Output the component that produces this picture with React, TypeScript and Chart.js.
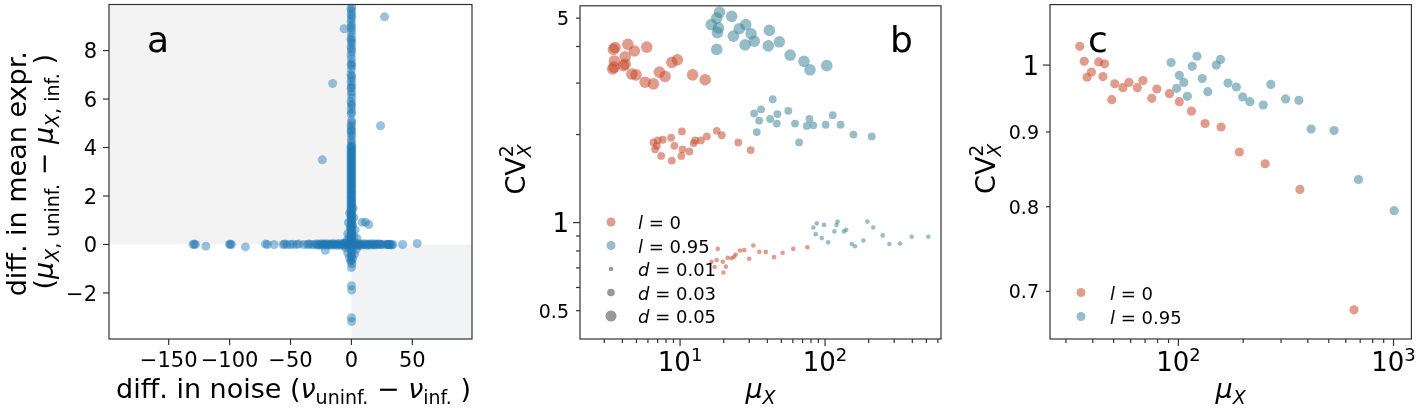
import React, { useEffect, useRef } from 'react';
import { Chart, registerables } from 'chart.js';

Chart.register(...registerables);

const FAMILY = '"DejaVu Sans", sans-serif';

// ---------------- Panel a data: [diff. in noise, diff. in mean expr.] ----------------
const aVerticalStem: [number, number][] = [
  [0.3, 9.8], [-0.4, 9.72], [0.2, 9.62], [-0.2, 9.5], [0.4, 9.42], [0, 9.3], [-0.3, 9.18], [0.2, 9.05], [-0.2, 8.95], [0.3, 8.85],
  [-0.1, 8.72], [0.2, 8.55], [-0.3, 8.47], [0.1, 8.38], [0.3, 8.28], [-0.2, 8.15], [0, 8.05], [0.3, 7.95], [-0.3, 7.82], [0.1, 7.66],
  [0.2, 7.5], [-0.2, 7.42], [0.3, 7.36], [0, 7.22], [-0.3, 7.02], [0.2, 6.95], [0.1, 6.85], [-0.2, 6.72], [0.3, 6.6], [0, 6.5],
  [-0.2, 6.45], [0.2, 6.3], [0, 6.2], [0.3, 6.05], [-0.3, 5.9], [0.1, 5.8], [0.2, 5.72], [-0.1, 5.58], [0.3, 5.45], [-0.2, 5.38],
  [0.1, 5.12], [0.3, 5.02], [-0.2, 4.92], [0, 4.82], [0.2, 4.72], [-0.3, 4.66], [0.1, 4.56], [0.3, 4.46], [-0.1, 4.32], [0.2, 4.22],
];
const aDenseStem: [number, number][] = [
  [0.3, 4.1], [0.3, 4.0], [0.3, 3.9], [0.3, 3.8], [0.3, 3.7], [0.3, 3.6], [0.3, 3.5], [0.3, 3.4], [0.3, 3.3], [0.3, 3.2],
  [0.3, 3.1], [0.3, 3.0], [0.3, 2.9], [0.3, 2.8], [0.3, 2.7], [0.3, 2.6], [0.3, 2.5], [0.3, 2.4], [0.3, 2.3], [0.3, 2.2],
  [0.3, 2.1], [0.3, 2.0], [0.3, 1.9], [0.3, 1.8], [0.3, 1.7], [0.3, 1.6], [0.3, 1.5], [0.3, 1.4], [0.3, 1.3], [0.3, 1.2],
  [0.3, 1.1], [0.3, 1.0], [0.3, 0.9], [0.3, 0.8], [0.3, 0.7], [0.3, 0.6], [0.3, 0.5], [0.3, 0.4], [0.3, 0.3], [0.3, 0.2], [0.3, 0.1],
  [-0.3, 4.05], [-0.3, 3.95], [-0.3, 3.85], [-0.3, 3.75], [-0.3, 3.65], [-0.3, 3.55], [-0.3, 3.45], [-0.3, 3.35], [-0.3, 3.25], [-0.3, 3.15],
  [-0.3, 3.05], [-0.3, 2.95], [-0.3, 2.85], [-0.3, 2.75], [-0.3, 2.65], [-0.3, 2.55], [-0.3, 2.45], [-0.3, 2.35], [-0.3, 2.25], [-0.3, 2.15],
  [-0.3, 2.05], [-0.3, 1.95], [-0.3, 1.85], [-0.3, 1.75], [-0.3, 1.65], [-0.3, 1.55], [-0.3, 1.45], [-0.3, 1.35], [-0.3, 1.25], [-0.3, 1.15],
  [-0.3, 1.05], [-0.3, 0.95], [-0.3, 0.85], [-0.3, 0.75], [-0.3, 0.65], [-0.3, 0.55], [-0.3, 0.45], [-0.3, 0.35], [-0.3, 0.25], [-0.3, 0.15], [-0.3, 0.05],
];
const aCenter: [number, number][] = [
  [-4, 0.15], [4.5, 0.25], [-3, 0.45], [3, 0.6], [-2.5, 0.9], [2, 1.1], [-1.5, 1.3], [1.5, 1.5], [-4.5, -0.15], [4, -0.2],
  [-3, -0.35], [2.5, -0.4], [-1.5, -0.55], [1, -0.6], [-0.5, -0.7], [0.5, -0.8], [0, -0.95], [-5, 0.05], [5, 0], [-2, 0.3],
  [2, 0.35], [-1, 0.7], [1, 0.8], [0.2, -0.1], [-0.2, -0.2], [0.1, -0.3], [-0.1, -0.4], [0.3, -0.5], [-0.2, -0.65],
  [0, -1.7], [0.2, -1.88], [0, -3.02], [0.1, -3.18],
];
const aHorizontalStem: [number, number][] = [
  [-130, 0], [-129, 0.02], [-128, 0], [-119.5, -0.07], [-100, 0], [-99.5, 0.02], [-98.5, 0], [-87, -0.1], [-70.5, 0.02], [-69, 0],
  [-63.5, 0], [-56, 0], [-55, 0.02], [-53, 0], [-50, 0], [-48, 0.01], [-45, 0], [-43, 0.02], [-39, 0], [-36, 0], [-35, 0.02],
  [-33, 0], [-31, 0], [-29, 0.02], [-28, -0.02], [-27, 0.02], [-26, -0.03], [-25, 0.01], [-24, 0.03], [-23, -0.02], [-22, 0.02],
  [-21, -0.01], [-20, 0.03], [-19, -0.03], [-18, 0.01], [-17, 0.02], [-16, -0.02], [-15, 0.03], [-14, -0.01], [-13, 0.02], [-12, -0.03],
  [-11, 0.01], [-10, 0.04], [-9, -0.04], [-8, 0.02], [-7, -0.02], [-6, 0.05], [-5, -0.05], [-4, 0.03], [-3, -0.03], [-2, 0.04],
  [-1, -0.04], [0, 0.02], [1, -0.02], [2, 0.04], [3, -0.04], [4, 0.05], [5, -0.05], [6, 0.03], [7, -0.03], [8, 0.02],
  [9, -0.02], [10, 0.03], [11, -0.01], [12, 0.02], [13, -0.03], [14, 0.01], [15, 0.02], [16, -0.02], [17, 0.03], [18, -0.01],
  [19, 0.02], [20, -0.02], [21, 0.01], [22, 0.02], [23, 0.02], [24, 0], [25, 0], [27, 0.01], [29, 0], [30, 0],
  [30.5, 0], [31, 0.01], [32, 0], [33, -0.02], [34, 0], [42, 0], [54, 0.04],
];
const aOutliers: [number, number][] = [
  [-6, 8.9], [-15.4, 6.64], [27.2, 9.39], [23.9, 4.9], [-23.9, 3.49], [8.8, 0.92], [11.5, 0.92], [14.3, 0.82], [-21.4, -0.24],
];
const aXTicks = [-150, -100, -50, 0, 50];
const aYTicks = [-2, 0, 2, 4, 6, 8];

// ---------------- Panel b data ----------------
const bRedLargeMu = [3.47, 3.56, 4.36, 4.84, 5.89, 3.52, 4.18, 4.18, 3.43, 4.65, 4.97, 5.74, 6.55, 7.2, 7.88, 8.77, 9.58, 12.2, 14.9, 4.07, 3.5];
const bRedLargeCv = [3.91, 3.97, 4.07, 3.86, 3.98, 3.57, 3.69, 3.48, 3.35, 3.22, 3.2, 3.02, 2.98, 3.27, 3.16, 3.53, 3.6, 3.2, 3.08, 3.44, 3.4];
const bBlueLargeMu = [18.7, 17.9, 22.7, 16.4, 18.4, 18.1, 17.9, 23.3, 25.6, 28.4, 30.9, 32.5, 28.1, 41.3, 40.6, 48.4, 57.4, 71.6, 78.8, 102.8];
const bBlueLargeCv = [5.24, 5.0, 5.07, 4.75, 4.63, 4.46, 3.91, 4.34, 4.6, 4.75, 4.42, 4.17, 4.05, 4.54, 4.02, 4.15, 3.74, 3.56, 3.33, 3.44];
const bRedMidMu = [6.55, 6.72, 7.02, 7.6, 6.91, 7.4, 8.67, 9.14, 8.77, 10.3, 10.4, 10.2, 11.6, 12.4, 12.7, 13.9, 15.3, 17.9, 19.4, 25.2, 30.7];
const bRedMidCv = [1.88, 1.78, 1.91, 1.92, 1.83, 1.69, 1.95, 1.83, 1.63, 2.05, 1.78, 1.69, 1.75, 1.87, 1.91, 1.91, 1.97, 2.06, 1.99, 1.88, 1.77];
const bBlueMidMu = [43.6, 32.4, 36.2, 35.1, 33.8, 41.8, 46.9, 46.5, 55.8, 62.1, 66.2, 74.8, 78.0, 83.0, 101, 113, 128, 157, 210];
const bBlueMidCv = [2.64, 2.36, 2.44, 2.23, 2.04, 2.26, 2.35, 2.18, 2.41, 2.18, 1.88, 2.14, 2.26, 2.15, 2.16, 2.33, 2.16, 2.0, 1.97];
const bRedSmallMu = [16.5, 17.3, 17.9, 18.2, 19.7, 19.9, 20.7, 21.3, 22.7, 23.6, 24.2, 25.9, 27.7, 30.0, 32.0, 35.2, 39.0, 44.5, 51.0, 60.4, 75.5];
const bRedSmallCv = [0.735, 0.705, 0.745, 0.813, 0.735, 0.675, 0.707, 0.758, 0.755, 0.764, 0.778, 0.803, 0.805, 0.752, 0.835, 0.794, 0.794, 0.762, 0.789, 0.813, 0.824];
const bBlueSmallMu = [83.0, 87.7, 98.4, 86.3, 94.9, 105, 116, 120, 122, 135, 140, 153, 161, 184, 196, 215, 250, 278, 329, 396, 516];
const bBlueSmallCv = [0.962, 0.994, 0.982, 0.913, 0.885, 0.856, 0.933, 0.982, 1.008, 0.933, 0.945, 0.845, 0.83, 0.868, 1.008, 0.962, 0.904, 0.845, 0.848, 0.895, 0.895];
const bXMajor = [10, 100];
const bXMinor = [3, 4, 5, 6, 7, 8, 9, 20, 30, 40, 50, 60, 70, 80, 90, 200, 300, 400, 500, 600];
const bYMajor = [1];
const bYMinor = [0.5, 0.6, 0.7, 0.8, 0.9, 2, 3, 4, 5];
const bYMinorLabeled = [0.5, 5];

// ---------------- Panel c data ----------------
const cRedMu = [34.8, 36.5, 37.6, 39.4, 42.6, 45.4, 44.6, 50.6, 49.0, 55.2, 58.9, 64.4, 68.4, 75.2, 79.4, 90.9, 101, 115, 133, 158, 192, 253, 367, 655];
const cRedCv = [1.03, 1.006, 0.981, 0.989, 1.005, 1.002, 0.982, 0.971, 0.947, 0.965, 0.973, 0.965, 0.976, 0.949, 0.963, 0.956, 0.944, 0.93, 0.912, 0.907, 0.872, 0.856, 0.822, 0.68];
const cBlueMu = [92.5, 101, 106, 98.2, 110, 116, 122, 129, 137, 150, 157, 170, 186, 199, 215, 248, 269, 315, 363, 414, 529, 687, 1007];
const cBlueCv = [1.004, 0.984, 0.973, 0.964, 0.952, 0.998, 1.014, 0.979, 0.959, 1.0, 1.009, 0.972, 0.966, 0.951, 0.944, 0.939, 0.97, 0.948, 0.946, 0.904, 0.902, 0.835, 0.795];
const cXMajor = [100, 1000];
const cXMinor = [30, 40, 50, 60, 70, 80, 90, 200, 300, 400, 500, 600, 700, 800, 900];
const cYMajor = [1];
const cYMinor = [0.7, 0.8, 0.9];

// ---------------- styles ----------------
const RED = 'rgba(198,76,48,0.55)';
const BLUE = 'rgba(66,135,155,0.55)';
const GRAY = 'rgba(70,70,70,0.55)';
const ABLUE = 'rgba(31,119,180,0.45)';

type Seg = { t: string; size: number; italic?: boolean; dy?: number; stack?: boolean };

function segFont(s: Seg) {
  return `${s.italic ? 'italic ' : ''}${s.size}px ${FAMILY}`;
}

function drawRich(ctx: CanvasRenderingContext2D, segs: Seg[], x: number, y: number, align: 'left' | 'center' | 'right', rot = 0) {
  ctx.save();
  ctx.translate(x, y);
  if (rot) ctx.rotate(rot);
  const pos: number[] = [];
  let cur = 0;
  let prevStart = 0;
  let prevW = 0;
  for (const s of segs) {
    ctx.font = segFont(s);
    const w = ctx.measureText(s.t).width;
    if (s.stack) {
      pos.push(prevStart);
      prevW = Math.max(prevW, w);
      cur = prevStart + prevW;
    } else {
      pos.push(cur);
      prevStart = cur;
      prevW = w;
      cur += w;
    }
  }
  const start = align === 'left' ? 0 : align === 'right' ? -cur : -cur / 2;
  ctx.fillStyle = '#000';
  ctx.textAlign = 'left';
  ctx.textBaseline = 'alphabetic';
  segs.forEach((s, i) => {
    ctx.font = segFont(s);
    ctx.fillText(s.t, start + pos[i], s.dy || 0);
  });
  ctx.restore();
}

type Tick = { v: number; major: boolean; label?: Seg[] };

function plainLabel(v: number, size: number): Seg[] {
  const t = v < 0 ? '\u2212' + String(-v) : String(v);
  return [{ t, size }];
}
function powLabel(exp: string): Seg[] {
  return [{ t: '10', size: 26 }, { t: exp, size: 18, dy: -10 }];
}

interface PanelSpec {
  xTicks: Tick[];
  yTicks: Tick[];
  xMajorLen: number;
  xLabelOffset: number;
  yLabelGap: number;
  background?: (chart: any) => void;
  extras: (chart: any, ctx: CanvasRenderingContext2D) => void;
}

function panelPlugin(id: string, spec: PanelSpec) {
  return {
    id,
    beforeDatasetsDraw(chart: any) {
      if (spec.background) spec.background(chart);
    },
    afterDraw(chart: any) {
      const ctx: CanvasRenderingContext2D = chart.ctx;
      const { left, right, top, bottom } = chart.chartArea;
      const xs = chart.scales.x;
      const ys = chart.scales.y;
      ctx.save();
      ctx.strokeStyle = '#333';
      ctx.lineWidth = 1.2;
      ctx.strokeRect(left, top, right - left, bottom - top);
      for (const t of spec.xTicks) {
        const px = xs.getPixelForValue(t.v);
        if (px < left - 0.5 || px > right + 0.5) continue;
        const len = t.major ? spec.xMajorLen : 4;
        ctx.beginPath();
        ctx.moveTo(px, bottom);
        ctx.lineTo(px, bottom + len);
        ctx.stroke();
        if (t.label) drawRich(ctx, t.label, px, bottom + spec.xLabelOffset, 'center');
      }
      for (const t of spec.yTicks) {
        const py = ys.getPixelForValue(t.v);
        if (py < top - 0.5 || py > bottom + 0.5) continue;
        const len = t.major ? spec.xMajorLen : 4;
        ctx.beginPath();
        ctx.moveTo(left, py);
        ctx.lineTo(left - len, py);
        ctx.stroke();
        if (t.label) {
          const size = t.label[0].size;
          drawRich(ctx, t.label, left - spec.yLabelGap, py + 0.3645 * size, 'right');
        }
      }
      spec.extras(chart, ctx);
      ctx.restore();
    },
  };
}

function pairs(xs: number[], ys: number[]) {
  return xs.map((x, i) => ({ x, y: ys[i] }));
}
function tuples(list: [number, number][]) {
  return list.map(([x, y]) => ({ x, y }));
}
function ds(data: { x: number; y: number }[], color: string, r: number) {
  return { data, backgroundColor: color, borderWidth: 0, pointRadius: r, pointHoverRadius: r };
}

function baseOptions(padding: any, x: any, y: any) {
  return {
    responsive: false,
    animation: false,
    events: [],
    layout: { padding },
    scales: { x: { ...x, display: false }, y: { ...y, display: false } },
    plugins: { legend: { display: false }, tooltip: { enabled: false } },
  };
}

function legendRow(ctx: CanvasRenderingContext2D, mx: number, tx: number, y: number, r: number, color: string, label: Seg[]) {
  ctx.beginPath();
  ctx.fillStyle = color;
  ctx.arc(mx, y, r, 0, Math.PI * 2);
  ctx.fill();
  drawRich(ctx, label, tx, y + 0.3645 * label[0].size + 0.5, 'left');
}

function configA(): any {
  const aSpec: PanelSpec = {
    xTicks: aXTicks.map((v) => ({ v, major: true, label: plainLabel(v, 21) })),
    yTicks: aYTicks.map((v) => ({ v, major: true, label: plainLabel(v, 21) })),
    xMajorLen: 6,
    xLabelOffset: 28,
    yLabelGap: 12,
    background: (chart) => {
      const ctx: CanvasRenderingContext2D = chart.ctx;
      const { left, right, top, bottom } = chart.chartArea;
      const x0 = chart.scales.x.getPixelForValue(0);
      const y0 = chart.scales.y.getPixelForValue(0);
      ctx.save();
      ctx.fillStyle = '#f3f3f3';
      ctx.fillRect(left, top, x0 - left, y0 - top);
      ctx.fillStyle = '#f1f3f5';
      ctx.fillRect(x0, y0, right - x0, bottom - y0);
      ctx.restore();
    },
    extras: (chart, ctx) => {
      const { left, right, top, bottom } = chart.chartArea;
      const cy = (top + bottom) / 2;
      const cx = (left + right) / 2;
      drawRich(ctx, [{ t: 'a', size: 36 }], left + 38, 52, 'left');
      drawRich(ctx, [{ t: 'diff. in mean expr.', size: 27 }], left - 83, cy + 2, 'center', -Math.PI / 2);
      drawRich(
        ctx,
        [
          { t: '(', size: 27 },
          { t: '\u03bc', size: 27, italic: true },
          { t: 'X', size: 19, italic: true, dy: 6 },
          { t: ', uninf.', size: 19, dy: 6 },
          { t: ' \u2212 ', size: 27 },
          { t: '\u03bc', size: 27, italic: true },
          { t: 'X', size: 19, italic: true, dy: 6 },
          { t: ', inf.', size: 19, dy: 6 },
          { t: ' )', size: 27 },
        ],
        left - 56,
        cy,
        'center',
        -Math.PI / 2,
      );
      drawRich(
        ctx,
        [
          { t: 'diff. in noise (', size: 27 },
          { t: '\u03bd', size: 27, italic: true },
          { t: 'uninf.', size: 19, dy: 6 },
          { t: ' \u2212 ', size: 27 },
          { t: '\u03bd', size: 27, italic: true },
          { t: 'inf.', size: 19, dy: 6 },
          { t: ' )', size: 27 },
        ],
        cx + 3,
        bottom + 59,
        'center',
      );
    },
  };
  return {
    type: 'scatter',
    data: {
      datasets: [
        ds(tuples(aHorizontalStem), ABLUE, 4.5),
        ds(tuples(aVerticalStem), ABLUE, 4.5),
        ds(tuples(aDenseStem), ABLUE, 4.5),
        ds(tuples(aCenter), ABLUE, 4.5),
        ds(tuples(aOutliers), ABLUE, 4.5),
      ],
    },
    options: baseOptions(
      { left: 109, right: 8, top: 1, bottom: 69 },
      { type: 'linear', min: -199, max: 99 },
      { type: 'linear', min: -3.9, max: 9.9 },
    ),
    plugins: [panelPlugin('panelA', aSpec)],
  };
}

function logXTicks(major: number[], minor: number[], labels: string[]): Tick[] {
  return [
    ...major.map((v, i) => ({ v, major: true, label: powLabel(labels[i]) })),
    ...minor.map((v) => ({ v, major: false })),
  ];
}

function yTitle(ctx: CanvasRenderingContext2D, x: number, y: number) {
  drawRich(
    ctx,
    [
      { t: 'CV', size: 27 },
      { t: '2', size: 19, dy: -12 },
      { t: 'X', size: 19, italic: true, dy: 6, stack: true },
    ],
    x,
    y,
    'center',
    -Math.PI / 2,
  );
}
function xTitle(ctx: CanvasRenderingContext2D, x: number, y: number) {
  drawRich(ctx, [{ t: '\u03bc', size: 27, italic: true }, { t: 'X', size: 19, italic: true, dy: 6 }], x, y, 'center');
}

function configB(): any {
  const spec: PanelSpec = {
    xTicks: logXTicks(bXMajor, bXMinor, ['1', '2']),
    yTicks: [
      ...bYMajor.map((v) => ({ v, major: true, label: plainLabel(v, 26) })),
      ...bYMinor.map((v) => ({ v, major: false, label: bYMinorLabeled.includes(v) ? plainLabel(v, 19) : undefined })),
    ],
    xMajorLen: 7,
    xLabelOffset: 32,
    yLabelGap: 11,
    extras: (chart, ctx) => {
      const { left, right, top, bottom } = chart.chartArea;
      drawRich(ctx, [{ t: 'b', size: 36 }], right - 51, 52, 'left');
      yTitle(ctx, left - 55, (top + bottom) / 2 - 3);
      xTitle(ctx, (left + right) / 2, bottom + 59);
      const mx = left + 31;
      const tx = left + 58;
      const lab = (v: string, d: string): Seg[] => [{ t: v, size: 18, italic: true }, { t: ' = ' + d, size: 18 }];
      legendRow(ctx, mx, tx, 222, 4.5, RED, lab('l', '0'));
      legendRow(ctx, mx, tx, 245.5, 4.5, BLUE, lab('l', '0.95'));
      legendRow(ctx, mx, tx, 269, 2.3, GRAY, lab('d', '0.01'));
      legendRow(ctx, mx, tx, 292.5, 3.8, GRAY, lab('d', '0.03'));
      legendRow(ctx, mx, tx, 316, 5.5, GRAY, lab('d', '0.05'));
    },
  };
  return {
    type: 'scatter',
    data: {
      datasets: [
        ds(pairs(bRedLargeMu, bRedLargeCv), RED, 5.8),
        ds(pairs(bBlueLargeMu, bBlueLargeCv), BLUE, 5.8),
        ds(pairs(bRedMidMu, bRedMidCv), RED, 3.9),
        ds(pairs(bBlueMidMu, bBlueMidCv), BLUE, 3.9),
        ds(pairs(bRedSmallMu, bRedSmallCv), RED, 2.3),
        ds(pairs(bBlueSmallMu, bBlueSmallCv), BLUE, 2.3),
      ],
    },
    options: baseOptions(
      { left: 100, right: 9, top: 1, bottom: 69 },
      { type: 'logarithmic', min: 2.04, max: 631 },
      { type: 'logarithmic', min: 0.4, max: 5.51 },
    ),
    plugins: [panelPlugin('panelB', spec)],
  };
}

function configC(): any {
  const spec: PanelSpec = {
    xTicks: logXTicks(cXMajor, cXMinor, ['2', '3']),
    yTicks: [
      ...cYMajor.map((v) => ({ v, major: true, label: plainLabel(v, 26) })),
      ...cYMinor.map((v) => ({ v, major: false, label: plainLabel(v, 19) })),
    ],
    xMajorLen: 7,
    xLabelOffset: 32,
    yLabelGap: 11,
    extras: (chart, ctx) => {
      const { left, right, top, bottom } = chart.chartArea;
      drawRich(ctx, [{ t: 'c', size: 36 }], left + 38, 52, 'left');
      yTitle(ctx, left - 55, (top + bottom) / 2 - 3);
      xTitle(ctx, (left + right) / 2, bottom + 59);
      const mx = left + 31;
      const tx = left + 60;
      const lab = (d: string): Seg[] => [{ t: 'l', size: 18, italic: true }, { t: ' = ' + d, size: 18 }];
      legendRow(ctx, mx, tx, 292.5, 4.5, RED, lab('0'));
      legendRow(ctx, mx, tx, 316.5, 4.5, BLUE, lab('0.95'));
    },
  };
  return {
    type: 'scatter',
    data: {
      datasets: [ds(pairs(cRedMu, cRedCv), RED, 4.6), ds(pairs(cBlueMu, cBlueCv), BLUE, 4.6)],
    },
    options: baseOptions(
      { left: 100, right: 3, top: 1, bottom: 69 },
      { type: 'logarithmic', min: 25.3, max: 1211 },
      { type: 'logarithmic', min: 0.6494, max: 1.1 },
    ),
    plugins: [panelPlugin('panelC', spec)],
  };
}

export default function App() {
  const ra = useRef<HTMLCanvasElement>(null);
  const rb = useRef<HTMLCanvasElement>(null);
  const rc = useRef<HTMLCanvasElement>(null);
  useEffect(() => {
    const charts = [new Chart(ra.current!, configA()), new Chart(rb.current!, configB()), new Chart(rc.current!, configC())];
    return () => charts.forEach((c) => c.destroy());
  }, []);
  return (
    <div style={{ position: 'absolute', left: 0, top: 0, width: 1416, height: 408, background: '#fff' }}>
      <canvas ref={ra} width={480} height={408} style={{ position: 'absolute', left: 0, top: 0, width: 480, height: 408 }} />
      <canvas ref={rb} width={470} height={408} style={{ position: 'absolute', left: 480, top: 0, width: 470, height: 408 }} />
      <canvas ref={rc} width={466} height={408} style={{ position: 'absolute', left: 950, top: 0, width: 466, height: 408 }} />
    </div>
  );
}
